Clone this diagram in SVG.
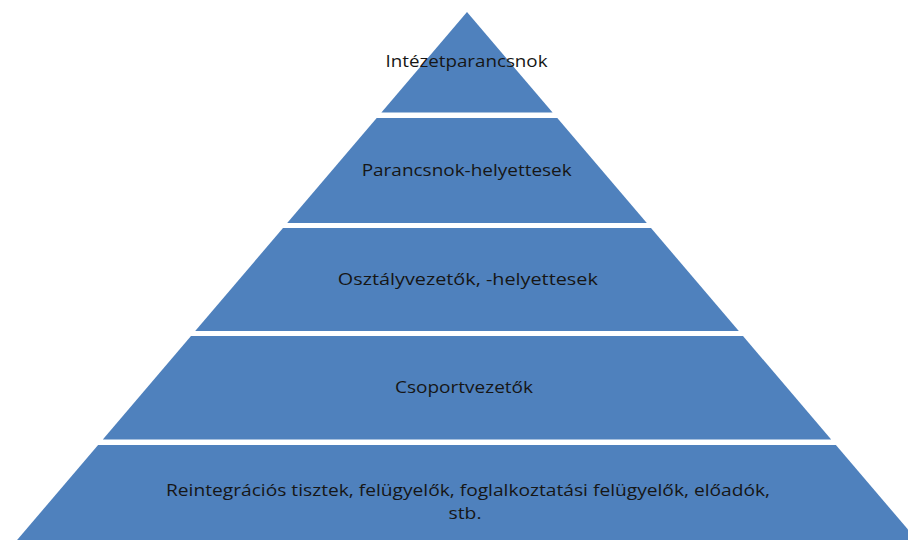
<svg xmlns="http://www.w3.org/2000/svg" width="908" height="540" viewBox="0 0 908 540">
  <style>
    .tier { fill: #4F81BD; stroke: none; }
    .lbl { font-family: "Open Sans", "Noto Sans", "Liberation Sans", sans-serif; font-size: 17px; fill: #161616; text-anchor: middle; }
  </style>
  <rect x="0" y="0" width="908" height="540" fill="#FFFFFF"/>
  <g id="tier1">
    <polygon class="tier" points="467,12 552.6,112.5 381.4,112.5"/>
    <text class="lbl" x="466.5" y="67" textLength="162" lengthAdjust="spacingAndGlyphs">Intézetparancsnok</text>
  </g>
  <g id="tier2">
    <polygon class="tier" points="376.7,118 557.3,118 646.8,223 287.2,223"/>
    <text class="lbl" x="466.7" y="176" textLength="210" lengthAdjust="spacingAndGlyphs">Parancsnok-helyettesek</text>
  </g>
  <g id="tier3">
    <polygon class="tier" points="283,228 651,228 738.8,331 195.2,331"/>
    <text class="lbl" x="467.8" y="285" textLength="260" lengthAdjust="spacingAndGlyphs">Osztályvezetők, -helyettesek</text>
  </g>
  <g id="tier4">
    <polygon class="tier" points="191,336 743,336 831.2,439.5 102.8,439.5"/>
    <text class="lbl" x="464" y="393" textLength="138" lengthAdjust="spacingAndGlyphs">Csoportvezetők</text>
  </g>
  <g id="tier5">
    <polygon class="tier" points="98.1,445 835.9,445 916.9,540 17.1,540"/>
    <text class="lbl" x="468" y="496" textLength="604" lengthAdjust="spacingAndGlyphs">Reintegrációs tisztek, felügyelők, foglalkoztatási felügyelők, előadók,</text>
    <text class="lbl" x="465" y="519" textLength="33" lengthAdjust="spacingAndGlyphs">stb.</text>
  </g>
  <g id="connectors"></g>
</svg>
